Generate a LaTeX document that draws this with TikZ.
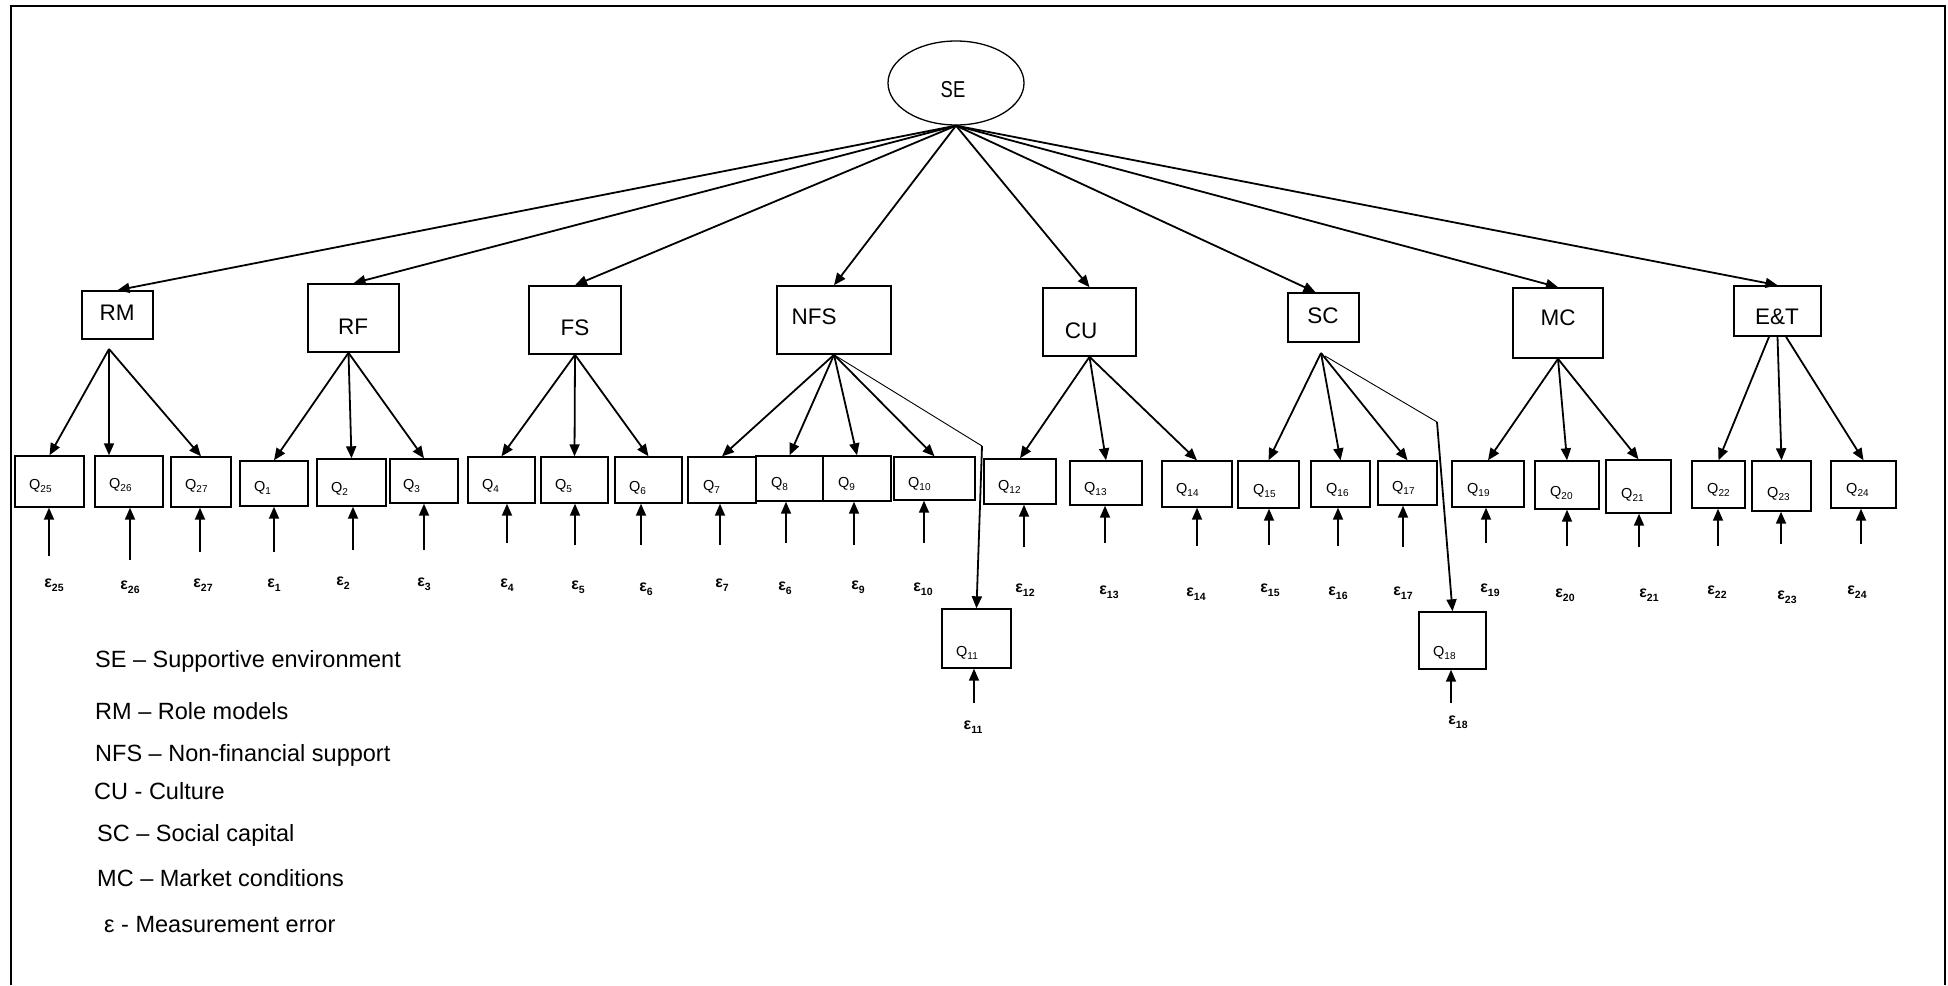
\documentclass[tikz,border=0pt]{standalone}
\usepackage{fontspec}
\setmainfont{Liberation Sans}
\usepackage{graphicx}
\usetikzlibrary{arrows.meta,shapes.geometric,calc}
\tikzset{
  lat/.style={draw, line width=1.6pt, inner sep=0pt},
  obs/.style={draw, line width=1.4pt, inner sep=0pt},
  arr/.style={line width=1.8pt, -{Triangle[length=12pt,width=10pt]}},
  thinln/.style={line width=0.9pt},
  ltxt/.style={font=\fontsize{22.5}{27}\selectfont, inner sep=0pt},
  qlab/.style={font=\fontsize{14.5}{17}\selectfont, inner sep=0pt, anchor=base west},
  elab/.style={font=\bfseries\fontsize{16}{19}\selectfont, inner sep=0pt, anchor=mid},
  legend/.style={font=\fontsize{23.5}{28}\selectfont, inner sep=0pt, anchor=base west},
}
\newcommand{\qsub}[1]{\raisebox{-3pt}{\fontsize{10}{12}\selectfont #1}}
\newcommand{\esub}[1]{\raisebox{-3.5pt}{\bfseries\fontsize{10.5}{12}\selectfont #1}}
\newcommand{\qbox}[7]{%
  \node[obs, minimum width={(#4-#2)*1pt}, minimum height={(#5-#3)*1pt}] (q#1) at ({(#2+#4)/2},{(#3+#5)/2}) {};
  \node[qlab] (ql#1) at (#6,#7+5) {Q\qsub{#1}};}
\newcommand{\qerr}[6]{%
  \coordinate (s#1) at (#2,#3);
  \draw[arr] (s#1) -- (s#1 |- q#1.south);
  \node[elab] (e#1) at (#5,#6) {ε\esub{#4}};}
\begin{document}
\begin{tikzpicture}[x=1pt,y=-1pt]
\useasboundingbox (0,0) rectangle (1948,985);
% frame
\draw[line width=1.8pt] (11,985) -- (11,6) -- (1945,6) -- (1945,985);

% SE
\node[draw, ellipse, line width=1.3pt, minimum width=136pt, minimum height=84pt, inner sep=0pt] (SE) at (956,83) {};
\node[font=\fontsize{23}{27}\selectfont, inner sep=0pt] (SEt) at (953,90) {\scalebox{0.8}[1]{SE}};

% latent boxes
\node[lat, minimum width=71pt, minimum height=48pt] (RM) at (117.5,315) {};
\node[ltxt] (RMt) at (117,313) {RM};
\node[lat, minimum width=91pt, minimum height=68pt] (RF) at (353.5,318) {};
\node[ltxt] (RFt) at (353,327) {RF};
\node[lat, minimum width=92pt, minimum height=68pt] (FS) at (575,320) {};
\node[ltxt] (FSt) at (575,328) {FS};
\node[lat, minimum width=114pt, minimum height=68pt] (NFS) at (834,320) {};
\node[ltxt] (NFSt) at (814,317) {NFS};
\node[lat, minimum width=93pt, minimum height=68pt] (CU) at (1089.5,322) {};
\node[ltxt] (CUt) at (1081,331) {CU};
\node[lat, minimum width=71pt, minimum height=49pt] (SC) at (1323.5,317.5) {};
\node[ltxt] (SCt) at (1323,316) {SC};
\node[lat, minimum width=90pt, minimum height=70pt] (MC) at (1558,323) {};
\node[ltxt] (MCt) at (1558,318) {MC};
\node[lat, minimum width=87pt, minimum height=50pt] (ET) at (1777.5,311) {};
\node[ltxt] (ETt) at (1777,317) {E\&T};

% SE arrows
\foreach \t in {RM,RF,FS,NFS,CU,MC,ET}{\draw[arr] (SE.south) -- (\t.north);}
\draw[arr] (SE.south) -- ([xshift=-8pt]SC.north);

% observed boxes
\qbox{25}{15}{456}{84}{507}{29}{484}
\qbox{26}{95}{456}{163}{507}{109}{483}
\qbox{27}{171}{457}{231}{507}{185}{484}
\qbox{1}{240}{461}{308}{506}{254}{486}
\qbox{2}{317}{459}{386}{506}{331}{487}
\qbox{3}{390}{459}{458}{503}{403}{484}
\qbox{4}{468}{457}{535}{503}{482}{484}
\qbox{5}{541}{457}{608}{503}{555}{484}
\qbox{6}{615}{457}{682}{503}{629}{486}
\qbox{7}{688}{457}{756}{503}{703}{485}
\qbox{8}{756}{456}{823}{501}{771}{482}
\qbox{9}{823}{456}{891}{501}{838}{482}
\qbox{10}{894}{457}{975}{500}{908}{482}
\qbox{11}{942}{609}{1011}{668}{956}{651}
\qbox{12}{984}{459}{1056}{504}{998}{485}
\qbox{13}{1070}{461}{1142}{505}{1084}{487}
\qbox{14}{1162}{461}{1232}{507}{1176}{488}
\qbox{15}{1238}{461}{1299}{508}{1253}{489}
\qbox{16}{1311}{461}{1370}{507}{1326}{488}
\qbox{17}{1378}{461}{1437}{505}{1392}{486}
\qbox{18}{1419}{612}{1486}{669}{1433}{651}
\qbox{19}{1452}{461}{1524}{507}{1467}{488}
\qbox{20}{1535}{461}{1599}{509}{1550}{491}
\qbox{21}{1606}{460}{1671}{513}{1621}{493}
\qbox{22}{1692}{461}{1745}{508}{1707}{488}
\qbox{23}{1752}{461}{1811}{511}{1767}{492}
\qbox{24}{1831}{461}{1896}{508}{1846}{488}

% fans
\coordinate (RMo) at (109,349);
\draw[arr] (RMo) -- (q25.north);
\draw[arr] (RMo) -- ([xshift=-20pt]q26.north);
\draw[arr] (RMo) -- (q27.north);
\foreach \q in {1,2,3}{\draw[arr] ([xshift=-5pt]RF.south) -- (q\q.north);}
\foreach \q in {4,5,6}{\draw[arr] (FS.south) -- (q\q.north);}
\foreach \q in {7,8,9,10}{\draw[arr] (NFS.south) -- (q\q.north);}
\foreach \q in {12,13,14}{\draw[arr] (CU.south) -- (q\q.north);}
\coordinate (SCo) at (1321,353);
\foreach \q in {15,16,17}{\draw[arr] (SCo) -- (q\q.north);}
\foreach \q in {19,20,21}{\draw[arr] (MC.south) -- (q\q.north);}
\draw[arr] ([xshift=-8.5pt]ET.south) -- (q22.north);
\draw[arr] (ET.south) -- (q23.north);
\draw[arr] ([xshift=8.5pt]ET.south) -- (q24.north);

% bent paths to Q11 and Q18
\coordinate (NFSk) at (982,446);
\draw[thinln] (NFS.south) -- (NFSk);
\draw[arr] (NFSk) -- (q11.north);
\coordinate (SCk) at (1437,422);
\draw[thinln] ([xshift=4pt,yshift=-3pt]SCo) -- (SCk);
\draw[arr] (SCk) -- (q18.north);

% errors
\qerr{25}{49}{556}{25}{54}{585}
\qerr{26}{130}{560}{26}{130}{587}
\qerr{27}{200}{552}{27}{203}{585}
\qerr{1}{274}{552}{1}{274}{585}
\qerr{2}{353}{550}{2}{343}{583}
\qerr{3}{424}{550}{3}{424}{584}
\qerr{4}{507}{543}{4}{507}{585}
\qerr{5}{575}{545}{5}{578}{587}
\qerr{6}{641}{545}{6}{646}{589}
\qerr{7}{720}{545}{7}{722}{585}
\qerr{8}{786}{543}{6}{785}{588}
\qerr{9}{854}{545}{9}{858}{587}
\qerr{10}{924}{543}{10}{923}{589}
\qerr{11}{974}{703}{11}{973}{727}
\qerr{12}{1024}{547}{12}{1025}{590}
\qerr{13}{1105}{543}{13}{1109}{592}
\qerr{14}{1197}{546}{14}{1196}{594}
\qerr{15}{1269}{545}{15}{1270}{590}
\qerr{16}{1338}{546}{16}{1338}{593}
\qerr{17}{1403}{547}{17}{1403}{593}
\qerr{18}{1451}{703}{18}{1458}{722}
\qerr{19}{1486}{543}{19}{1490}{590}
\qerr{20}{1567}{546}{20}{1565}{595}
\qerr{21}{1639}{547}{21}{1649}{595}
\qerr{22}{1718}{546}{22}{1717}{592}
\qerr{23}{1781}{544}{23}{1787}{597}
\qerr{24}{1861}{544}{24}{1857}{592}

% legend
\node[legend] (leg1) at (95,667) {SE – Supportive environment};
\node[legend] (leg2) at (95,719) {RM – Role models};
\node[legend] (leg3) at (95,761) {NFS – Non-financial support};
\node[legend] (leg4) at (94,799) {CU - Culture};
\node[legend] (leg5) at (97,841) {SC – Social capital};
\node[legend] (leg6) at (97,886) {MC – Market conditions};
\node[legend] (leg7) at (104,932) {ε - Measurement error};
\end{tikzpicture}
\end{document}
